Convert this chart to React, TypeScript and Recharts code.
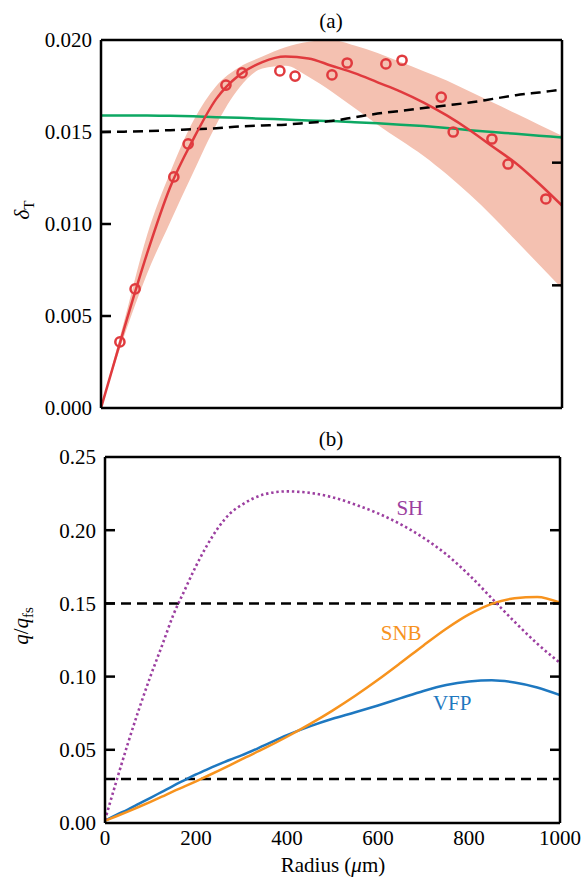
import React from 'react';
import {
  ComposedChart,
  Line,
  Area,
  Scatter,
  XAxis,
  YAxis,
  ReferenceLine,
  ReferenceDot,
} from 'recharts';

const FONT = '"Liberation Serif", "Times New Roman", Times, serif';
const RED = '#E03A3E';
const BAND = '#F4C1B1';
const GREEN = '#0DA863';
const BLUE = '#1E78C0';
const ORANGE = '#F7931E';
const PURPLE = '#9C3FA0';

// ---------- Panel (a) ----------
const radiusA = [0, 50, 100, 150, 200, 250, 300, 350, 400, 450, 500, 550, 600, 650, 700, 750, 800, 850, 900, 950, 1000];
const fitA = [0, 0.0043, 0.0084, 0.0120, 0.0146, 0.0168, 0.0181, 0.0188, 0.0191, 0.0190, 0.0186, 0.0182, 0.0177, 0.0172, 0.0166, 0.0159, 0.0151, 0.0142, 0.0133, 0.0122, 0.0110];
const bandLowA = [0, 0.0039, 0.0073, 0.0101, 0.0128, 0.0154, 0.0174, 0.01845, 0.0186, 0.0180, 0.0172, 0.0163, 0.0154, 0.01455, 0.0137, 0.0127, 0.0116, 0.0104, 0.0091, 0.0078, 0.0065];
const bandHighA = [0, 0.0047, 0.0094, 0.0128, 0.0156, 0.0175, 0.01852, 0.0191, 0.0196, 0.0199, 0.0200, 0.0197, 0.0193, 0.0188, 0.0183, 0.0178, 0.0172, 0.0166, 0.0160, 0.0154, 0.0148];
const greenA = [0.0159, 0.0159, 0.0159, 0.01588, 0.01585, 0.0158, 0.01577, 0.01572, 0.01568, 0.01563, 0.0156, 0.01553, 0.01547, 0.0154, 0.01532, 0.01522, 0.0151, 0.015, 0.0149, 0.0148, 0.0147];
const dashedA = [0.0150, 0.01502, 0.01505, 0.0151, 0.01515, 0.0152, 0.0153, 0.01535, 0.0154, 0.0155, 0.0156, 0.0158, 0.0160, 0.01615, 0.0163, 0.01645, 0.0166, 0.0168, 0.0170, 0.01715, 0.0173];
const obsRadius = [41, 74, 158, 189, 271, 306, 388, 421, 501, 534, 618, 653, 738, 764, 848, 883, 965];
const obsDelta = [0.00359, 0.00647, 0.01256, 0.01435, 0.01755, 0.01821, 0.01832, 0.01804, 0.0181, 0.01875, 0.0187, 0.0189, 0.0169, 0.0150, 0.01462, 0.01326, 0.01136];
const yTicksA = [0, 0.005, 0.01, 0.015, 0.02];
const xInnerTicks = [200, 400, 600, 800];

// ---------- Panel (b) ----------
const radiusB = [0, 25, 50, 75, 100, 125, 150, 175, 200, 225, 250, 275, 300, 350, 400, 450, 500, 550, 600, 650, 700, 750, 800, 850, 900, 950, 1000];
const shB = [0.002, 0.0285, 0.054, 0.078, 0.1003, 0.1209, 0.1420, 0.1590, 0.1755, 0.1900, 0.2022, 0.2115, 0.2172, 0.2245, 0.2265, 0.2255, 0.2225, 0.2175, 0.2115, 0.2040, 0.1948, 0.1835, 0.1695, 0.1535, 0.1375, 0.1225, 0.1093];
const snbB = [0.0015, 0.0046, 0.0078, 0.0111, 0.0145, 0.0180, 0.0216, 0.0250, 0.0285, 0.0321, 0.0358, 0.0396, 0.0435, 0.0509, 0.0589, 0.0675, 0.0768, 0.0869, 0.0978, 0.1094, 0.1213, 0.1327, 0.1425, 0.1497, 0.1535, 0.1544, 0.1505];
const vfpB = [0.0015, 0.0055, 0.0092, 0.0132, 0.0172, 0.0213, 0.0254, 0.0293, 0.0332, 0.0367, 0.0400, 0.0432, 0.0462, 0.0530, 0.0600, 0.0660, 0.0712, 0.0756, 0.0803, 0.0853, 0.0902, 0.0942, 0.0966, 0.0975, 0.0960, 0.0926, 0.0874];
const limitsB = [0.15, 0.03];
const yTicksB = [0, 0.05, 0.1, 0.15, 0.2, 0.25];
const xTicksB = [0, 200, 400, 600, 800, 1000];
const seriesLabelsB = [
  { name: 'SH', r: 670, q: 0.2158, color: PURPLE },
  { name: 'SNB', r: 651, q: 0.1298, color: ORANGE },
  { name: 'VFP', r: 763, q: 0.082, color: BLUE },
];

const dataA = radiusA.map((r, i) => ({
  r,
  fit: fitA[i],
  band: [bandLowA[i], bandHighA[i]],
  green: greenA[i],
  dashed: dashedA[i],
}));
const obsA = obsRadius.map((r, i) => ({ r, d: obsDelta[i] }));
const dataB = radiusB.map((r, i) => ({ r, sh: shB[i], snb: snbB[i], vfp: vfpB[i] }));

const tickFont = { fill: '#000', fontSize: 21, fontFamily: FONT };
const LINE = { stroke: '#000', strokeWidth: 2.5 };

const EmptyTick = () => <g />;

const Ring = (props: any) => {
  const { cx, cy } = props;
  if (cx == null || cy == null) return <g />;
  return <circle cx={cx} cy={cy} r={4.6} fill="none" stroke={RED} strokeWidth={2.5} />;
};

// Inward tick axes on all four sides (mirror, 1px thick so they are rendered)
function frameAxes(yDomain: number[], yTicks: number[], rightDomain: number[], rightTicks: number[]) {
  return [
    <XAxis key="fb" xAxisId="fb" type="number" domain={[0, 1000]} allowDataOverflow ticks={xInnerTicks}
      mirror height={1} stroke="#000" axisLine={LINE} tickLine={LINE} tickSize={10} tick={EmptyTick} />,
    <XAxis key="ft" xAxisId="ft" orientation="top" type="number" domain={[0, 1000]} allowDataOverflow
      ticks={xInnerTicks} mirror height={1} stroke="#000" axisLine={LINE} tickLine={LINE} tickSize={10} tick={EmptyTick} />,
    <YAxis key="fl" yAxisId="fl" type="number" domain={yDomain} allowDataOverflow ticks={yTicks}
      mirror width={1} stroke="#000" axisLine={LINE} tickLine={LINE} tickSize={10} tick={EmptyTick} />,
    <YAxis key="fr" yAxisId="fr" orientation="right" type="number" domain={rightDomain} allowDataOverflow
      ticks={rightTicks} mirror width={1} stroke="#000" axisLine={LINE} tickLine={LINE} tickSize={10} tick={EmptyTick} />,
  ];
}

function PanelA() {
  return (
    <ComposedChart
      width={582}
      height={430}
      data={dataA}
      margin={{ top: 40, right: 20, bottom: 22, left: 0 }}
    >
      <XAxis xAxisId="x" dataKey="r" type="number" domain={[0, 1000]} allowDataOverflow hide />
      <YAxis yAxisId="y" type="number" domain={[0, 0.02]} allowDataOverflow ticks={yTicksA}
        width={101} axisLine={false} tickLine={false} tickSize={0} tickMargin={9}
        tick={tickFont} tickFormatter={(v: number) => v.toFixed(3)} />
      <Area xAxisId="x" yAxisId="y" type="monotone" dataKey="band" stroke="none" fill={BAND}
        fillOpacity={1} isAnimationActive={false} />
      <Line xAxisId="x" yAxisId="y" type="monotone" dataKey="green" stroke={GREEN} strokeWidth={2.5}
        dot={false} isAnimationActive={false} />
      <Line xAxisId="x" yAxisId="y" type="monotone" dataKey="dashed" stroke="#000" strokeWidth={2.5}
        strokeDasharray="10 6" dot={false} isAnimationActive={false} />
      <Line xAxisId="x" yAxisId="y" type="monotone" dataKey="fit" stroke={RED} strokeWidth={2.5}
        dot={false} isAnimationActive={false} />
      <Scatter xAxisId="x" yAxisId="y" data={obsA} dataKey="d" shape={Ring} isAnimationActive={false} />
      {frameAxes([0, 0.02], [0.005, 0.01, 0.015], [0, 3], [1, 2])}
    </ComposedChart>
  );
}

function PanelB() {
  return (
    <ComposedChart
      width={582}
      height={456}
      data={dataB}
      margin={{ top: 27, right: 22, bottom: 0, left: 0 }}
    >
      <XAxis xAxisId="x" dataKey="r" type="number" domain={[0, 1000]} allowDataOverflow ticks={xTicksB}
        height={63} axisLine={false} tickLine={false} tickSize={0} tickMargin={7} tick={tickFont} />
      <YAxis yAxisId="y" type="number" domain={[0, 0.25]} allowDataOverflow ticks={yTicksB}
        width={105} axisLine={false} tickLine={false} tickSize={0} tickMargin={9}
        tick={tickFont} tickFormatter={(v: number) => v.toFixed(2)} />
      {limitsB.map((v) => (
        <ReferenceLine key={v} xAxisId="x" yAxisId="y" y={v} stroke="#000" strokeWidth={2.5}
          strokeDasharray="10 6" />
      ))}
      <Line xAxisId="x" yAxisId="y" type="monotone" dataKey="vfp" stroke={BLUE} strokeWidth={2.5}
        dot={false} isAnimationActive={false} />
      <Line xAxisId="x" yAxisId="y" type="monotone" dataKey="snb" stroke={ORANGE} strokeWidth={2.5}
        dot={false} isAnimationActive={false} />
      <Line xAxisId="x" yAxisId="y" type="monotone" dataKey="sh" stroke={PURPLE} strokeWidth={2.6}
        strokeDasharray="2.4 2.8" dot={false} isAnimationActive={false} />
      {seriesLabelsB.map((s) => (
        <ReferenceDot key={s.name} xAxisId="x" yAxisId="y" x={s.r} y={s.q} r={0} fill="none" stroke="none"
          label={{ value: s.name, position: 'center', fill: s.color, fontSize: 21, fontFamily: FONT }} />
      ))}
      {frameAxes([0, 0.25], [0.05, 0.1, 0.15, 0.2], [0, 0.25], [0.05, 0.1, 0.15, 0.2])}
    </ComposedChart>
  );
}

export default function App() {
  return (
    <div style={{ position: 'absolute', left: 0, top: 0, width: 582, height: 886, background: '#fff', fontFamily: FONT }}>
      <div style={{ position: 'absolute', left: 0, top: 0 }}>
        <PanelA />
      </div>
      <div style={{ position: 'absolute', left: 0, top: 430 }}>
        <PanelB />
      </div>
      <svg
        width={582}
        height={886}
        style={{ position: 'absolute', left: 0, top: 0, pointerEvents: 'none' }}
        fontFamily={FONT}
      >
        <text x={331} y={28} fontSize={21} textAnchor="middle" fill="#000">(a)</text>
        <text x={331} y={446} fontSize={21} textAnchor="middle" fill="#000">(b)</text>
        <text x={333} y={872} fontSize={21} textAnchor="middle" fill="#000">
          Radius (<tspan fontStyle="italic">μ</tspan>m)
        </text>
        <text x={29} y={210} fontSize={21} textAnchor="middle" fill="#000" transform="rotate(-90 29 210)">
          <tspan fontStyle="italic">δ</tspan>
          <tspan fontSize={15} dy={5}>T</tspan>
        </text>
        <text x={28} y={626} fontSize={21} textAnchor="middle" fill="#000" transform="rotate(-90 28 626)">
          <tspan fontStyle="italic">q</tspan>
          <tspan>/</tspan>
          <tspan fontStyle="italic">q</tspan>
          <tspan fontSize={15} dy={5}>fs</tspan>
        </text>
      </svg>
    </div>
  );
}
